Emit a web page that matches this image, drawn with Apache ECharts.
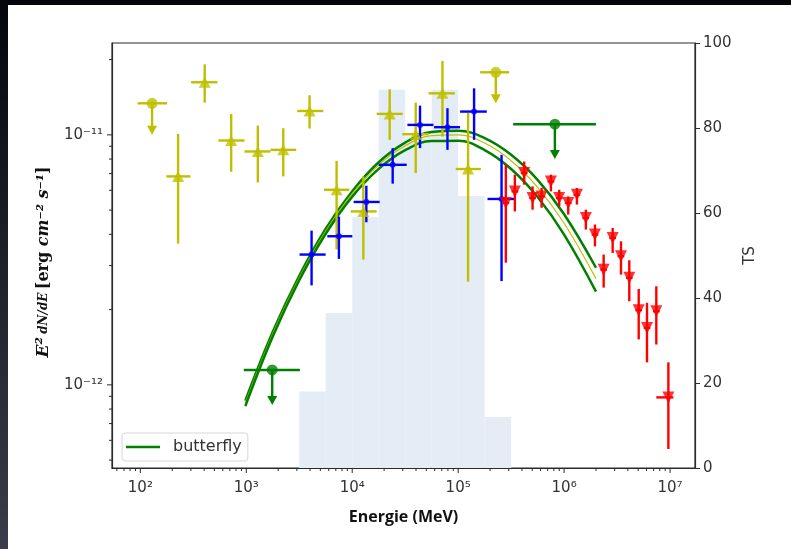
<!DOCTYPE html>
<html>
<head>
<meta charset="utf-8">
<script src="https://cdn.jsdelivr.net/npm/echarts@6/dist/echarts.min.js"></script>
<style>
html,body{margin:0;padding:0;background:#fff}
#main{width:791px;height:549px}
</style>
</head>
<body>
<div id="main"></div>
<script>
// axes ranges
var xMin = 54, xMax = 1.72e7;
var yMin = 4.65e-13, yMax = 2.33e-11;
var xMajor = [1e2, 1e3, 1e4, 1e5, 1e6, 1e7];
var yMajor = [1e-12, 1e-11];

// TS histogram (right axis)
var tsLo  = [3162, 5623, 1e4, 17780, 31620, 56230, 1e5, 177800];
var tsHi  = [5623, 1e4, 17780, 31620, 56230, 1e5, 177800, 316200];
var tsVal = [18, 36.5, 59, 89, 78, 89, 64, 12];

// butterfly
var bflyE     = [980, 1778, 3162, 5623, 1e4, 17780, 31620, 56230, 1e5, 177800, 316200, 562300, 1e6, 2e6];
var bflyMid   = [8.45e-13, 1.60e-12, 2.68e-12, 4.12e-12, 5.82e-12, 7.57e-12, 9.04e-12, 9.92e-12, 1.00e-11, 9.27e-12, 7.88e-12, 6.17e-12, 4.43e-12, 2.66e-12];
var bflyUp    = [8.65e-13, 1.63e-12, 2.73e-12, 4.21e-12, 5.95e-12, 7.77e-12, 9.31e-12, 1.026e-11, 1.038e-11, 9.71e-12, 8.33e-12, 6.61e-12, 4.81e-12, 2.94e-12];
var bflyLow   = [8.22e-13, 1.56e-12, 2.62e-12, 4.02e-12, 5.66e-12, 7.31e-12, 8.68e-12, 9.45e-12, 9.46e-12, 8.69e-12, 7.30e-12, 5.64e-12, 3.99e-12, 2.36e-12];

// yellow points
var yelE    = [227, 405, 720, 1285, 2233, 3957, 7122, 12730, 22570, 39740, 71060, 124000];
var yelELo  = [176, 301, 546, 962, 1693, 3028, 5402, 9658, 17010, 29750, 52400, 94900];
var yelEHi  = [297, 534, 962, 1693, 2962, 5331, 9389, 17010, 29950, 52740, 92900, 163600];
var yelF    = [6.82e-12, 1.623e-11, 9.49e-12, 8.58e-12, 8.71e-12, 1.246e-11, 6.03e-12, 4.94e-12, 1.213e-11, 1.006e-11, 1.466e-11, 7.30e-12];
var yelFLo  = [3.67e-12, 1.345e-11, 7.12e-12, 6.45e-12, 6.82e-12, 1.060e-11, 3.48e-12, 3.17e-12, 9.55e-12, 7.03e-12, 9.84e-12, 2.585e-12];
var yelFHi  = [1.009e-11, 1.914e-11, 1.213e-11, 1.089e-11, 1.063e-11, 1.440e-11, 7.87e-12, 6.82e-12, 1.521e-11, 1.345e-11, 1.973e-11, 1.227e-11];
// yellow upper limits
var yelUlE   = [129, 226600];
var yelUlELo = [94.3, 161100];
var yelUlEHi = [178.8, 302800];
var yelUlF   = [1.337e-11, 1.779e-11];
var yelUlTip = [1.0e-11, 1.337e-11];

// blue points
var blueE   = [4133, 7486, 13590, 24090, 43640, 79230, 141300, 256700];
var blueELo = [3183, 5817, 10310, 17760, 33180, 59190, 104200, 189200];
var blueEHi = [5605, 10020, 18160, 32680, 58420, 104200, 186300, 337700];
var blueF   = [3.32e-12, 3.93e-12, 5.39e-12, 7.59e-12, 1.096e-11, 1.073e-11, 1.239e-11, 5.54e-12];
var blueFLo = [2.50e-12, 3.19e-12, 4.47e-12, 6.38e-12, 8.85e-12, 8.71e-12, 9.55e-12, 2.60e-12];
var blueFHi = [4.14e-12, 4.71e-12, 6.26e-12, 8.85e-12, 1.309e-11, 1.278e-11, 1.535e-11, 8.32e-12];

// red points
var redE   = [2.818e5, 3.428e5, 4.197e5, 5.039e5, 6.131e5, 7.506e5, 8.990e5, 1.094e6, 1.321e6, 1.604e6, 1.955e6, 2.362e6, 2.873e6, 3.443e6, 4.124e6, 5.06e6, 6.06e6, 7.42e6, 9.64e6];
var redELo = [2.62e5, 3.19e5, 3.90e5, 4.69e5, 5.70e5, 6.98e5, 8.36e5, 1.017e6, 1.228e6, 1.49e6, 1.82e6, 2.20e6, 2.67e6, 3.20e6, 3.84e6, 4.71e6, 5.64e6, 6.90e6, 7.42e6];
var redEHi = [3.03e5, 3.69e5, 4.51e5, 5.42e5, 6.59e5, 8.07e5, 9.66e5, 1.176e6, 1.420e6, 1.72e6, 2.10e6, 2.54e6, 3.09e6, 3.70e6, 4.43e6, 5.44e6, 6.51e6, 7.98e6, 1.075e7];
var redF   = [5.34e-12, 5.94e-12, 7.03e-12, 5.59e-12, 5.67e-12, 6.51e-12, 5.59e-12, 5.34e-12, 5.76e-12, 4.65e-12, 3.99e-12, 2.89e-12, 3.87e-12, 3.27e-12, 2.68e-12, 1.99e-12, 1.69e-12, 1.97e-12, 8.91e-13];
var redFLo = [3.08e-12, 4.94e-12, 6.32e-12, 5.02e-12, 5.11e-12, 5.94e-12, 5.18e-12, 4.80e-12, 5.26e-12, 4.18e-12, 3.58e-12, 2.45e-12, 3.37e-12, 2.76e-12, 2.16e-12, 1.52e-12, 1.23e-12, 1.45e-12, 5.54e-13];
var redFHi = [7.59e-12, 6.93e-12, 7.82e-12, 6.22e-12, 6.14e-12, 6.93e-12, 6.03e-12, 5.67e-12, 6.13e-12, 5.02e-12, 4.38e-12, 3.32e-12, 4.24e-12, 3.75e-12, 3.15e-12, 2.42e-12, 2.13e-12, 2.48e-12, 1.23e-12];

// green upper limits
var grnUlE   = [1757, 8.18e5];
var grnUlELo = [947, 3.304e5];
var grnUlEHi = [3204, 1.998e6];
var grnUlF   = [1.147e-12, 1.103e-11];
var grnUlTip = [8.30e-13, 8.0e-12];

var YEL = '#bfbf00', BLUE = '#0000ff', RED = '#ff0000', GRN = '#008000';
var AX = '#2b2b2b';

var sup = {'-': '\u207b', '0': '\u2070', '1': '\u00b9', '2': '\u00b2', '3': '\u00b3', '4': '\u2074', '5': '\u2075', '6': '\u2076', '7': '\u2077', '8': '\u2078', '9': '\u2079'};
function powLabel(v) {
    var p = Math.log10(v), r = Math.round(p);
    if (Math.abs(p - r) > 1e-6) return '';
    return '10' + String(r).split('').map(function (c) { return sup[c]; }).join('');
}

function zip() {
    var cols = Array.prototype.slice.call(arguments);
    return cols[0].map(function (_, i) { return cols.map(function (c) { return c[i]; }); });
}

// minor tick values on the log axes
var xMinor = [], yMinor = [];
[10, 100, 1e3, 1e4, 1e5, 1e6, 1e7].forEach(function (d) {
    for (var k = 2; k <= 9; k++) { var v = d * k; if (v > xMin && v < xMax) xMinor.push(v); }
});
[1e-13, 1e-12, 1e-11].forEach(function (d) {
    for (var k = 2; k <= 9; k++) { var v = d * k; if (v > yMin && v < yMax) yMinor.push(v); }
});

function errItem(color, lw) {
    return function (params, api) {
        var e = api.value(0), f = api.value(1);
        var a = api.coord([api.value(2), f]), b = api.coord([api.value(3), f]);
        var c = api.coord([e, api.value(4)]), d = api.coord([e, api.value(5)]);
        return {type: 'group', children: [
            {type: 'line', shape: {x1: a[0], y1: a[1], x2: b[0], y2: b[1]}, style: {stroke: color, lineWidth: lw}},
            {type: 'line', shape: {x1: c[0], y1: c[1], x2: d[0], y2: d[1]}, style: {stroke: color, lineWidth: lw}}
        ]};
    };
}

function ulItem(color) {
    return function (params, api) {
        var f = api.value(1);
        var a = api.coord([api.value(2), f]), b = api.coord([api.value(3), f]);
        var p = api.coord([api.value(0), f]), t = api.coord([api.value(0), api.value(4)]);
        return {type: 'group', children: [
            {type: 'line', shape: {x1: a[0], y1: a[1], x2: b[0], y2: b[1]}, style: {stroke: color, lineWidth: 2.4}},
            {type: 'line', shape: {x1: p[0], y1: p[1], x2: t[0], y2: t[1] - 6}, style: {stroke: color, lineWidth: 2.4}},
            {type: 'polygon', shape: {points: [[t[0] - 5, t[1] - 9], [t[0] + 5, t[1] - 9], [t[0], t[1]]]}, style: {fill: color}}
        ]};
    };
}

var chart = echarts.init(document.getElementById('main'), null, {renderer: 'canvas'});

var option = {
    backgroundColor: '#ffffff',
    animation: false,
    grid: {left: 112, right: 96, top: 43, bottom: 81, show: true, borderColor: AX, borderWidth: 1.2, backgroundColor: 'transparent'},
    legend: {
        left: 122, top: 433,
        data: [{name: 'butterfly', icon: 'rect'}],
        itemWidth: 34, itemHeight: 2.5,
        padding: [6, 6, 6, 4],
        borderColor: '#d6d6d6', borderWidth: 1, borderRadius: 3,
        backgroundColor: 'rgba(255,255,255,0.85)',
        textStyle: {fontFamily: 'DejaVu Sans', fontSize: 16, color: '#333', padding: [0, 0, 0, 8]}
    },
    xAxis: {
        type: 'log', logBase: 10, min: xMin, max: xMax,
        name: 'Energie (MeV)', nameLocation: 'middle', nameGap: 41,
        nameTextStyle: {fontFamily: 'Open Sans', fontWeight: 'bold', fontSize: 16, color: '#111'},
        axisLine: {show: true, onZero: false, lineStyle: {color: AX, width: 1.2}},
        axisTick: {show: false},
        splitLine: {show: false},
        axisLabel: {formatter: powLabel, fontFamily: 'DejaVu Sans', fontSize: 15, color: '#333', margin: 13, showMinLabel: false, showMaxLabel: false}
    },
    yAxis: [{
        type: 'log', logBase: 10, min: yMin, max: yMax, position: 'left',
        axisLine: {show: true, onZero: false, lineStyle: {color: AX, width: 1.2}},
        axisTick: {show: false},
        splitLine: {show: false},
        axisLabel: {formatter: powLabel, fontFamily: 'DejaVu Sans', fontSize: 15, color: '#333', margin: 9, showMinLabel: false, showMaxLabel: false}
    }, {
        type: 'value', min: 0, max: 100, interval: 20, position: 'right',
        name: 'TS', nameLocation: 'middle', nameGap: 44, nameRotate: 90,
        nameTextStyle: {fontFamily: 'DejaVu Sans', fontSize: 15, color: '#333'},
        axisLine: {show: true, lineStyle: {color: AX, width: 1.2}},
        axisTick: {show: true, inside: false, length: 5, lineStyle: {color: AX}},
        splitLine: {show: false},
        axisLabel: {fontFamily: 'DejaVu Sans', fontSize: 15, color: '#333', margin: 8}
    }],
    graphic: [
        {type: 'rect', left: 0, top: 0, shape: {width: 791, height: 5}, style: {fill: '#05060c'}, z: 100},
        {type: 'rect', left: 0, top: 0, shape: {width: 8, height: 549},
            style: {fill: new echarts.graphic.LinearGradient(0, 0, 0, 1, [{offset: 0, color: '#05060c'}, {offset: 1, color: '#3c3c4a'}])}, z: 100},
        {type: 'text', x: 44, y: 262, rotation: Math.PI / 2, z: 10,
            style: {
                text: '{i|E\u00b2} {f|dN/dE} {b|[erg }{bi|cm\u207b\u00b2 s\u207b\u00b9}{b|]}',
                align: 'center', verticalAlign: 'middle',
                rich: {
                    i: {fontFamily: 'DejaVu Serif', fontStyle: 'italic', fontWeight: 'bold', fontSize: 17, fill: '#111'},
                    f: {fontFamily: 'DejaVu Serif', fontStyle: 'italic', fontWeight: 'bold', fontSize: 12, fill: '#111'},
                    b: {fontFamily: 'DejaVu Serif', fontWeight: 'bold', fontSize: 16, fill: '#111'},
                    bi: {fontFamily: 'DejaVu Serif', fontStyle: 'italic', fontWeight: 'bold', fontSize: 16, fill: '#111'}
                }
            }}
    ],
    series: [
        {   // TS histogram
            type: 'custom', xAxisIndex: 0, yAxisIndex: 1, z: 1, silent: true,
            data: zip(tsLo, tsHi, tsVal),
            encode: {x: [0, 1], y: 2},
            renderItem: function (params, api) {
                var p0 = api.coord([api.value(0), 0]), p1 = api.coord([api.value(1), api.value(2)]);
                return {type: 'rect', shape: {x: p0[0], y: p1[1], width: p1[0] - p0[0], height: p0[1] - p1[1]},
                    style: {fill: '#e4edf6'}};
            }
        },
        {name: 'butterfly', type: 'line', data: zip(bflyE, bflyUp), symbol: 'none', smooth: 0.4, z: 3,
            lineStyle: {color: GRN, width: 2.5}, itemStyle: {color: GRN}},
        {name: 'bfly-mid', type: 'line', data: zip(bflyE, bflyMid), symbol: 'none', smooth: 0.4, z: 3,
            lineStyle: {color: YEL, width: 1.2}},
        {name: 'bfly-low', type: 'line', data: zip(bflyE, bflyLow), symbol: 'none', smooth: 0.4, z: 3,
            lineStyle: {color: GRN, width: 2.5}},
        {type: 'custom', z: 4, data: zip(yelE, yelF, yelELo, yelEHi, yelFLo, yelFHi), renderItem: errItem(YEL, 2.4)},
        {type: 'custom', z: 4, data: zip(blueE, blueF, blueELo, blueEHi, blueFLo, blueFHi), renderItem: errItem(BLUE, 2.4)},
        {type: 'custom', z: 4, data: zip(redE, redF, redELo, redEHi, redFLo, redFHi), renderItem: errItem(RED, 2.4)},
        {type: 'custom', z: 4, data: zip(yelUlE, yelUlF, yelUlELo, yelUlEHi, yelUlTip), renderItem: ulItem(YEL)},
        {type: 'custom', z: 4, data: zip(grnUlE, grnUlF, grnUlELo, grnUlEHi, grnUlTip), renderItem: ulItem(GRN)},
        {type: 'scatter', z: 5, data: zip(yelE, yelF), symbol: 'triangle', symbolSize: [12, 11], itemStyle: {color: YEL}},
        {type: 'scatter', z: 5, data: zip(blueE, blueF), symbol: 'circle', symbolSize: 6, itemStyle: {color: BLUE}},
        {type: 'scatter', z: 5, data: zip(redE, redF), symbol: 'triangle', symbolRotate: 180, symbolSize: [12, 12], itemStyle: {color: RED}},
        {type: 'scatter', z: 5, data: zip(yelUlE, yelUlF), symbol: 'circle', symbolSize: 11, itemStyle: {color: YEL}},
        {type: 'scatter', z: 5, data: zip(grnUlE, grnUlF), symbol: 'circle', symbolSize: 11, itemStyle: {color: GRN}},
        {   // log-axis ticks, x
            type: 'custom', z: 6, silent: true,
            data: xMajor.map(function (v) { return [v, yMin, 5]; }).concat(xMinor.map(function (v) { return [v, yMin, 3]; })),
            renderItem: function (params, api) {
                var p = api.coord([api.value(0), api.value(1)]);
                return {type: 'line', shape: {x1: p[0], y1: p[1], x2: p[0], y2: p[1] + api.value(2)}, style: {stroke: AX, lineWidth: 1}};
            }
        },
        {   // log-axis ticks, y
            type: 'custom', z: 6, silent: true,
            data: yMajor.map(function (v) { return [xMin, v, 5]; }).concat(yMinor.map(function (v) { return [xMin, v, 3]; })),
            renderItem: function (params, api) {
                var p = api.coord([api.value(0), api.value(1)]);
                return {type: 'line', shape: {x1: p[0] - api.value(2), y1: p[1], x2: p[0], y2: p[1]}, style: {stroke: AX, lineWidth: 1}};
            }
        }
    ]
};

chart.setOption(option);
</script>
</body>
</html>
